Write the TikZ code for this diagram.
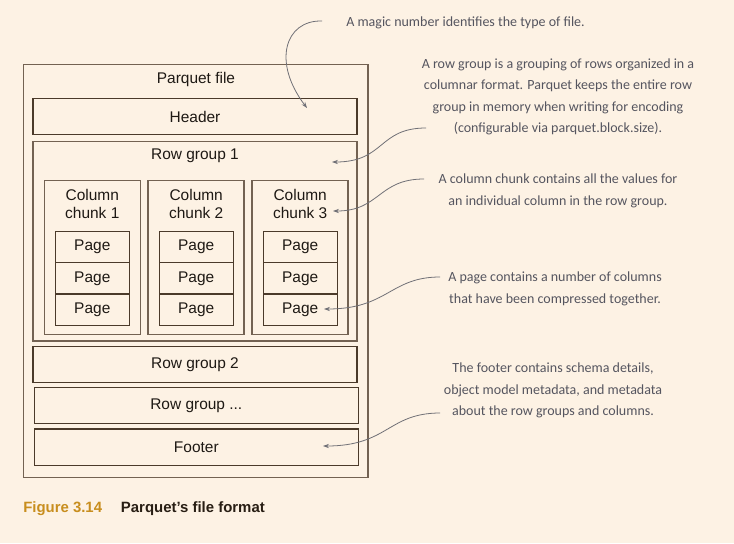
\documentclass[tikz,border=0pt]{standalone}
\usepackage{fontspec}
\setmainfont{Liberation Sans}
\newfontfamily\hand{Carlito}
\usetikzlibrary{arrows.meta}
\definecolor{bg}{RGB}{253,242,228}
\definecolor{boxline}{RGB}{75,58,42}
\definecolor{outerline}{RGB}{115,98,82}
\definecolor{notec}{RGB}{85,85,95}
\definecolor{arrowc}{RGB}{112,112,118}
\definecolor{figgold}{RGB}{200,142,30}
\definecolor{captext}{RGB}{40,30,20}
\definecolor{lbltext}{RGB}{30,25,20}
\begin{document}
\begin{tikzpicture}[x=0.75pt,y=-0.75pt,
  box/.style={draw=boxline, line width=0.9pt, inner sep=0pt},
  obox/.style={draw=outerline, line width=1.1pt, inner sep=0pt},
  lbl/.style={font=\fontsize{11.6}{13.5}\selectfont, text=lbltext, align=center, inner sep=0pt},
  notetxt/.style={font=\hand\fontsize{10.5}{16}\selectfont, text=notec, align=center, inner sep=0pt},
  callout/.style={draw=arrowc, line width=0.6pt, -{Stealth[length=4.5pt,width=3.2pt]}}]
\fill[bg] (0,0) rectangle (734,543);
\useasboundingbox (0,0) rectangle (734,543);

% outer file box
\node[obox, minimum width=258.4pt, minimum height=309.75pt] (file) at (195.75,271) {};
\node[lbl] (filelbl) at (196,79) {Parquet file};

\node[box, minimum width=243pt, minimum height=27pt, lbl] (header) at (195,116.5) {Header};

% row group 1
\node[obox, minimum width=243pt, minimum height=149.6pt] (rg1) at (195,241.25) {};
\node[lbl] (rg1lbl) at (195,156) {Row group 1};

% column chunks
\foreach \i/\cx in {1/92.3, 2/196.2, 3/300.2}{
  \node[obox, minimum width=72pt, minimum height=115.5pt] (chunk\i) at (\cx,257.3) {};
  \node[lbl] (chunk\i lbl) at (\cx,204) {Column\\chunk \i};
  \node[box, lbl, minimum width=55.5pt, minimum height=23.5pt] (p\i a) at (\cx,247) {Page};
  \node[box, lbl, minimum width=55.5pt, minimum height=23.5pt] (p\i b) at (\cx,278.3) {Page};
  \node[box, lbl, minimum width=55.5pt, minimum height=23.5pt] (p\i c) at (\cx,309.6) {Page};
}

\node[box, lbl, minimum width=243pt, minimum height=27pt] (rg2) at (195,364.3) {Row group 2};
\node[box, lbl, minimum width=243pt, minimum height=27pt] (rgn) at (196.3,405.7) {Row group ...};
\node[box, lbl, minimum width=243pt, minimum height=27.2pt] (footer) at (196.3,447.2) {Footer};

% annotations
\node[notetxt] (n1) at (465.5,22.7) {A magic number identifies the type of file.};
\node[notetxt] (n2) at (558,96.7) {A row group is a grouping of rows organized in a\\columnar format. Parquet keeps the entire row\\group in memory when writing for encoding\\(configurable via parquet.block.size).};
\node[notetxt] (n3) at (558,191) {A column chunk contains all the values for\\an individual column in the row group.};
\node[notetxt] (n4) at (555,289) {A page contains a number of columns\\that have been compressed together.};
\node[notetxt] (n5) at (553,390.5) {The footer contains schema details,\\object model metadata, and metadata\\about the row groups and columns.};

% arrow endpoints
\coordinate (a1s) at (322,21);   \coordinate (a1e) at (307,108);
\coordinate (a2s) at (426,128);  \coordinate (a2e) at (332,162);
\coordinate (a3s) at (424,179);  \coordinate (a3e) at (333,211);
\coordinate (a4s) at (440,277);  \coordinate (a4e) at (324,309);
\coordinate (a5s) at (440,413);  \coordinate (a5e) at (323,446);

\draw[callout] (a1s) .. controls (285,20) and (272,62) .. (a1e);
\draw[callout] (a2s) .. controls (378,128) and (385,162) .. (a2e);
\draw[callout] (a3s) .. controls (378,179) and (380,211) .. (a3e);
\draw[callout] (a4s) .. controls (390,277) and (388,309) .. (a4e);
\draw[callout] (a5s) .. controls (388,413) and (388,446) .. (a5e);

% caption
\node[anchor=base west, inner sep=0pt, font=\bfseries\fontsize{11.2}{13}\selectfont, text=figgold] (fig) at (23,512) {Figure 3.14};
\node[anchor=base west, inner sep=0pt, font=\bfseries\fontsize{11.2}{13}\selectfont, text=captext] (cap) at (120.7,512) {Parquet’s file format};
\end{tikzpicture}
\end{document}
